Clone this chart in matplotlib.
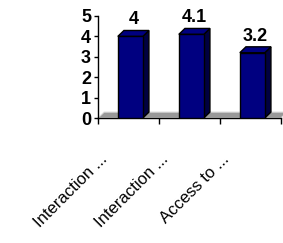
import matplotlib.pyplot as plt
from matplotlib.patches import Polygon
from matplotlib.transforms import ScaledTranslation

categories = ["Interaction ...", "Interaction ...", "Access to ..."]
values = [4, 4.1, 3.2]
value_labels = ["4", "4.1", "3.2"]

plt.rcParams['font.family'] = ['Liberation Sans', 'DejaVu Sans']

fig = plt.figure(figsize=(2.83, 2.43), dpi=100)
ax = fig.add_axes([98/283, 1-118/243, 183/283, 102/243])

x = list(range(len(values)))
w = 0.41
off = 0.03
dx, dy = 0.1, 0.29   # depth offsets in data units
x0, x1 = -0.5, 2.5
ax.set_xlim(x0, x1)
ax.set_ylim(0, 5)

# floor
ax.add_patch(Polygon([(x0, 0), (x1, 0), (x1 + dx, dy), (x0 + dx, dy)],
                     closed=True, facecolor='#999999', edgecolor='#dddddd',
                     lw=0.8, zorder=1, clip_on=False))

for xi, v, lab in zip(x, values, value_labels):
    c = xi + off
    l, r = c - w/2, c + w/2
    ax.add_patch(Polygon([(r, 0), (r + dx, dy), (r + dx, v + dy), (r, v)],
                         closed=True, facecolor='#000040', edgecolor='black',
                         lw=1, zorder=2))
    ax.add_patch(Polygon([(l, v), (r, v), (r + dx, v + dy), (l + dx, v + dy)],
                         closed=True, facecolor='#000080', edgecolor='black',
                         lw=1, zorder=2))
    ax.bar(c, v, width=w, color='#000080', edgecolor='black', lw=1, zorder=3)
    ax.text(c + dx/2, v + dy + 0.1, lab, ha='center', va='bottom',
            fontsize=13, fontweight='bold')

for s in ['top', 'right']:
    ax.spines[s].set_visible(False)
ax.spines['left'].set_linewidth(1)
ax.spines['bottom'].set_linewidth(1)

ax.set_yticks([0, 1, 2, 3, 4, 5])
ax.set_yticklabels(['0', '1', '2', '3', '4', '5'], fontsize=13, fontweight='bold')
ax.tick_params(axis='y', length=3, width=1, pad=2)

ax.set_xticks([-0.5, 0.5, 1.5, 2.5])
ax.set_xticklabels([])
ax.tick_params(axis='x', length=4, width=1)

for xi, c in zip(x, categories):
    t = ax.text(xi, 0, c, rotation=45, rotation_mode='anchor', ha='right',
                va='center', fontsize=12)
    t.set_transform(ax.transData + ScaledTranslation(-24/100, -39/100, fig.dpi_scale_trans))

fig.savefig('out.png', dpi=100)
